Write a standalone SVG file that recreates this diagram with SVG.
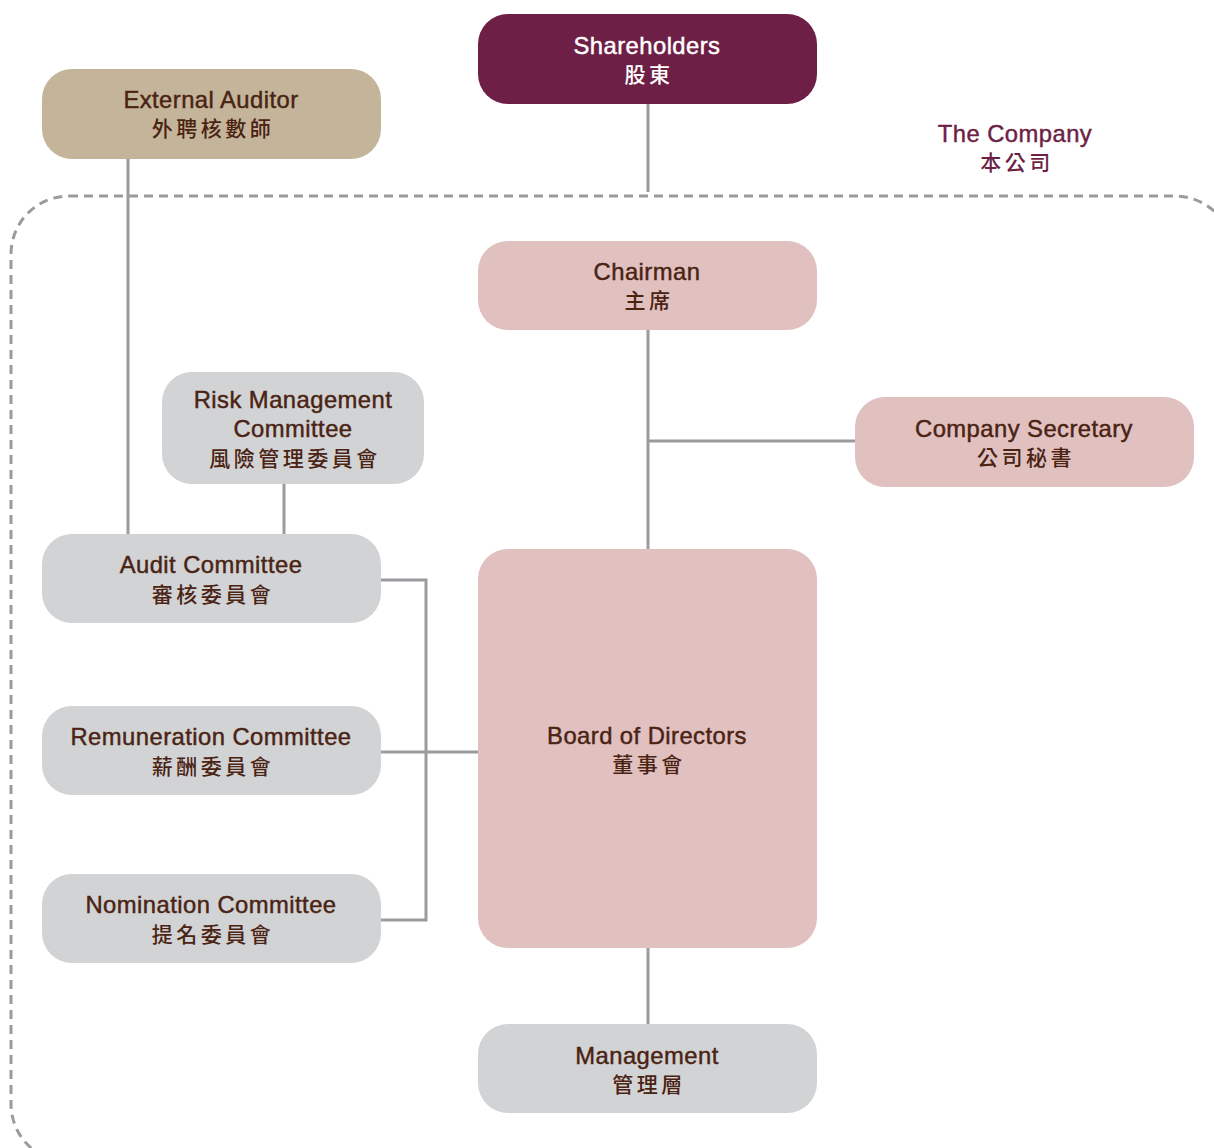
<svg xmlns="http://www.w3.org/2000/svg" width="1214" height="1148" viewBox="0 0 1214 1148">
<style>
.gray{fill:#d2d3d5}
.pink{fill:#e1c0c0}
.t{font-family:"Liberation Sans","Noto Sans CJK TC",sans-serif;font-size:23.8px;letter-spacing:0.45px;text-anchor:middle;fill:#4a2313;stroke:#4a2313;stroke-width:0.45px}
.c{font-family:"Noto Sans CJK TC",sans-serif;font-size:21px;font-weight:500;text-anchor:middle;fill:#4a2313;letter-spacing:3.5px}
.t.w{fill:#ffffff;stroke:#ffffff}
.c.w{fill:#ffffff;stroke:none}
.t.m{fill:#6e1f45;stroke:#6e1f45}
.c.m{fill:#6e1f45;stroke:none}
.ln{stroke:#9b9b9f;stroke-width:3;fill:none}
</style>
<rect x="11" y="196" width="1222" height="966" rx="58" fill="none" stroke="#9b9b9f" stroke-width="3" stroke-dasharray="9,6"/>
<g id="connectors">
<path class="ln" d="M648 104V192"/>
<path class="ln" d="M648 330V549"/>
<path class="ln" d="M648 441H855"/>
<path class="ln" d="M648 948V1024"/>
<path class="ln" d="M128 159V534"/>
<path class="ln" d="M284 484V534"/>
<path class="ln" d="M381 580H426V920H381"/>
<path class="ln" d="M381 752H478"/>
</g>
<g id="shareholders"><rect x="478" y="14" width="339" height="90" rx="30" fill="#6e1f45"/><text class="t w" x="647" y="54">Shareholders</text><text class="c w" x="649" y="82">股東</text></g>
<g id="external-auditor"><rect x="42" y="69" width="339" height="90" rx="30" fill="#c4b59a"/><text class="t" x="211" y="108">External Auditor</text><text class="c" x="213" y="136">外聘核數師</text></g>
<g id="the-company"><text class="t m" x="1015" y="142">The Company</text><text class="c m" x="1017" y="170">本公司</text></g>
<g id="chairman"><rect class="pink" x="478" y="241" width="339" height="89" rx="30"/><text class="t" x="647" y="280">Chairman</text><text class="c" x="649" y="308">主席</text></g>
<g id="company-secretary"><rect class="pink" x="855" y="397" width="339" height="90" rx="30"/><text class="t" x="1024" y="437">Company Secretary</text><text class="c" x="1026" y="465">公司秘書</text></g>
<g id="risk-management"><rect class="gray" x="162" y="372" width="262" height="112" rx="30"/><text class="t" x="293" y="408">Risk Management</text><text class="t" x="293" y="437">Committee</text><text class="c" x="295" y="466">風險管理委員會</text></g>
<g id="audit-committee"><rect class="gray" x="42" y="534" width="339" height="89" rx="30"/><text class="t" x="211" y="573">Audit Committee</text><text class="c" x="213" y="602">審核委員會</text></g>
<g id="remuneration-committee"><rect class="gray" x="42" y="706" width="339" height="89" rx="30"/><text class="t" x="211" y="745">Remuneration Committee</text><text class="c" x="213" y="774">薪酬委員會</text></g>
<g id="nomination-committee"><rect class="gray" x="42" y="874" width="339" height="89" rx="30"/><text class="t" x="211" y="913">Nomination Committee</text><text class="c" x="213" y="942">提名委員會</text></g>
<g id="board"><rect class="pink" x="478" y="549" width="339" height="399" rx="30"/><text class="t" x="647" y="744">Board of Directors</text><text class="c" x="649" y="772">董事會</text></g>
<g id="management"><rect class="gray" x="478" y="1024" width="339" height="89" rx="30"/><text class="t" x="647" y="1064">Management</text><text class="c" x="649" y="1092">管理層</text></g>
</svg>
